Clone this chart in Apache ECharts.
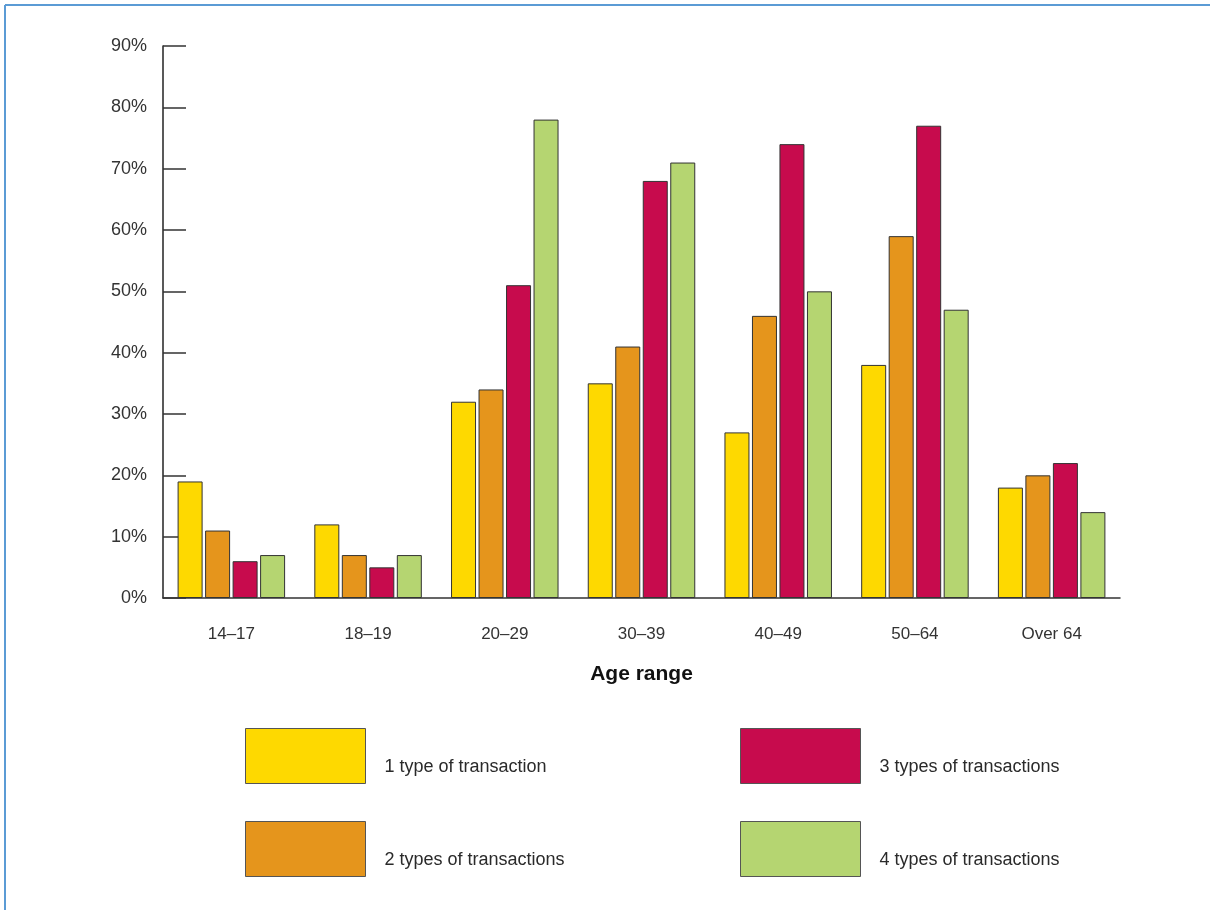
<!DOCTYPE html>
<html>
<head>
<meta charset="utf-8">
<style>
  html, body { margin: 0; padding: 0; background: #fff; }
  #chart { width: 1210px; height: 910px; }
</style>
<script src="https://cdn.jsdelivr.net/npm/echarts@6/dist/echarts.min.js"></script>
</head>
<body>
<div id="chart"></div>
<script>
// Share of people by age range and number of transaction types used
const ageRanges = ['14–17', '18–19', '20–29', '30–39', '40–49', '50–64', 'Over 64'];
const seriesNames = ['1 type of transaction', '2 types of transactions', '3 types of transactions', '4 types of transactions'];
const oneType   = [19, 12, 32, 35, 27, 38, 18];
const twoTypes  = [11, 7, 34, 41, 46, 59, 20];
const threeTypes = [6, 5, 51, 68, 74, 77, 22];
const fourTypes = [7, 7, 78, 71, 50, 47, 14];
const seriesColors = ['#FED900', '#E5951C', '#C70B4D', '#B5D571'];
const yTicks = [0, 10, 20, 30, 40, 50, 60, 70, 80, 90];

const values = [oneType, twoTypes, threeTypes, fourTypes];
const font = '"Liberation Sans", Arial, sans-serif';

const chart = echarts.init(document.getElementById('chart'));

const legendBase = {
  orient: 'vertical',
  top: 728,
  padding: 0,
  itemWidth: 120,
  itemHeight: 55,
  itemGap: 37,
  icon: 'rect',
  selectedMode: false,
  itemStyle: { borderColor: '#555', borderWidth: 1 },
  formatter: '{t|{name}}',
  textStyle: {
    fontFamily: font, fontSize: 18, color: '#2a2a2a',
    rich: { t: { fontFamily: font, fontSize: 18, color: '#2a2a2a', padding: [22, 0, 0, 14] } }
  }
};

chart.setOption({
  animation: false,
  backgroundColor: '#fff',
  grid: { left: 163, right: 90, top: 46, bottom: 312, containLabel: false },
  legend: [
    Object.assign({}, legendBase, { left: 245, data: [seriesNames[0], seriesNames[1]] }),
    Object.assign({}, legendBase, { left: 740, data: [seriesNames[2], seriesNames[3]] })
  ],
  xAxis: {
    type: 'category',
    data: ageRanges,
    boundaryGap: true,
    name: 'Age range',
    nameLocation: 'middle',
    nameGap: 66,
    nameTextStyle: { fontFamily: font, fontSize: 21, fontWeight: 'bold', color: '#111' },
    axisLine: { lineStyle: { color: '#333', width: 1.5 } },
    axisTick: { inside: true, length: 15, lineStyle: { color: '#333', width: 1.5 } },
    axisLabel: { fontFamily: font, fontSize: 17, color: '#333', margin: 28 }
  },
  yAxis: {
    type: 'value',
    min: yTicks[0],
    max: yTicks[yTicks.length - 1],
    interval: 10,
    axisLine: { show: true, lineStyle: { color: '#222', width: 1.5 } },
    axisTick: { show: true, inside: true, length: 23, lineStyle: { color: '#333', width: 1.5 } },
    splitLine: { show: false },
    axisLabel: { fontFamily: font, fontSize: 18, color: '#333', margin: 16, formatter: '{value}%' }
  },
  series: seriesNames.map((name, i) => ({
    name: name,
    type: 'bar',
    data: values[i],
    barWidth: 25,
    barGap: '10%',
    itemStyle: { color: seriesColors[i], borderColor: '#333', borderWidth: 1 }
  })),
  graphic: [
    { type: 'line', shape: { x1: 5, y1: 5, x2: 1210, y2: 5 }, style: { stroke: '#5B9BD5', lineWidth: 2 } },
    { type: 'line', shape: { x1: 5, y1: 5, x2: 5, y2: 910 }, style: { stroke: '#5B9BD5', lineWidth: 2 } }
  ]
});
</script>
</body>
</html>
